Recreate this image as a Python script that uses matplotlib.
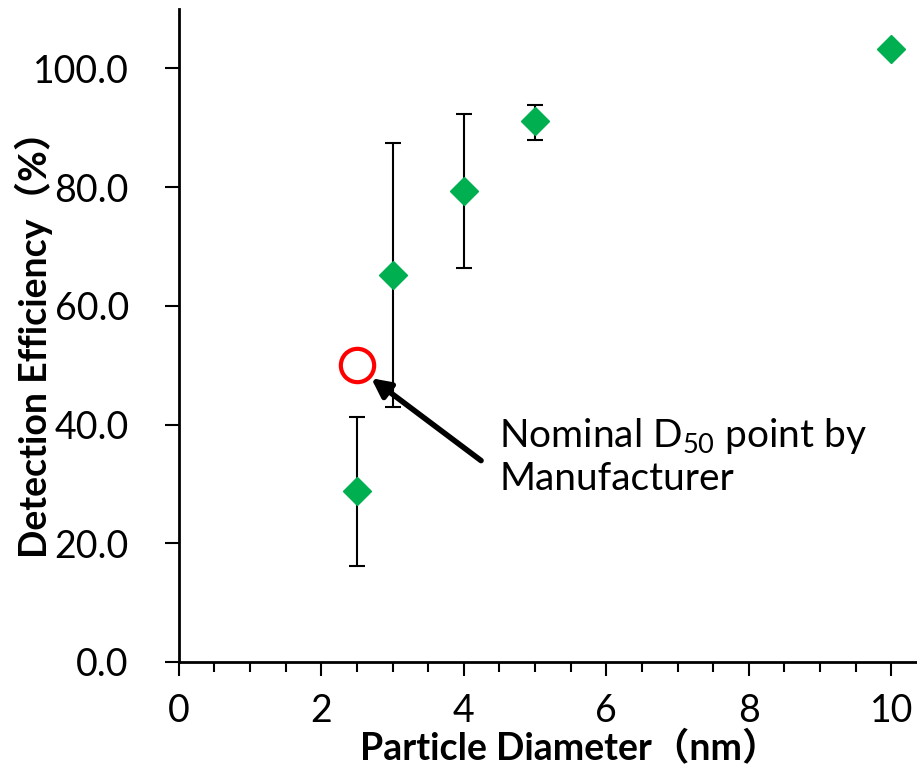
import matplotlib.pyplot as plt
from matplotlib.ticker import MultipleLocator

# measured detection efficiency
diameter = [2.5, 3, 4, 5, 10]
efficiency = [28.8, 65.2, 79.3, 91.1, 103.2]
err_low = [12.6, 22.3, 13.0, 3.2, 0.0]
err_high = [12.4, 22.2, 13.0, 2.8, 0.0]

# nominal D50 from manufacturer
d50_x = [2.5]
d50_y = [50.0]

ytick_vals = [0, 20, 40, 60, 80, 100]
ytick_labels = ['0.0', '20.0', '40.0', '60.0', '80.0', '100.0']

plt.rcParams['font.family'] = ['Lato', 'Noto Sans CJK JP', 'DejaVu Sans']
plt.rcParams['mathtext.fontset'] = 'custom'
plt.rcParams['mathtext.rm'] = 'Lato'
plt.rcParams['mathtext.it'] = 'Lato:italic'

fig = plt.figure(figsize=(9.17, 7.71), dpi=100)
ax = fig.add_axes([0.195, 0.1414, 0.805, 0.847])

ax.errorbar(diameter, efficiency, yerr=[err_low, err_high], fmt='D', color='#00B050',
            markersize=14, ecolor='black', elinewidth=1.5, capsize=6, capthick=1.5, zorder=3)
ax.plot(d50_x, d50_y, 'o', markersize=24, markerfacecolor='none',
        markeredgecolor='red', markeredgewidth=3, zorder=4)

ax.annotate('Nominal D$_{50}$ point by\nManufacturer', xy=(2.70, 47.8), xytext=(4.5, 41.5),
            fontsize=28, va='top', ha='left',
            arrowprops=dict(arrowstyle='-|>', color='black', lw=4, mutation_scale=28,
                            shrinkA=0, shrinkB=0, relpos=(-0.05, 0.45)))

ax.set_xlim(0, 10.36)
ax.set_ylim(0, 110)
ax.xaxis.set_major_locator(MultipleLocator(2))
ax.xaxis.set_minor_locator(MultipleLocator(0.5))
ax.set_yticks(ytick_vals)
ax.set_yticklabels(ytick_labels)

ax.spines['top'].set_visible(False)
ax.spines['right'].set_visible(False)
ax.spines['left'].set_linewidth(2)
ax.spines['bottom'].set_linewidth(2)
ax.tick_params(axis='both', which='major', labelsize=27, width=1.5, length=10, direction='out')
ax.tick_params(axis='x', which='minor', width=1.5, length=7, direction='out')
ax.tick_params(axis='y', pad=26)
ax.tick_params(axis='x', pad=12)

ax.set_xlabel('Particle Diameter（nm）', fontsize=27, fontweight='bold')
ax.xaxis.set_label_coords(0.53, -0.150)
ax.xaxis.label.set_va('baseline')
ax.set_ylabel('Detection Efficiency（%）', fontsize=27, fontweight='bold')
ax.yaxis.set_label_coords(-0.17, 0.5)

fig.savefig('out.png', dpi=100)
